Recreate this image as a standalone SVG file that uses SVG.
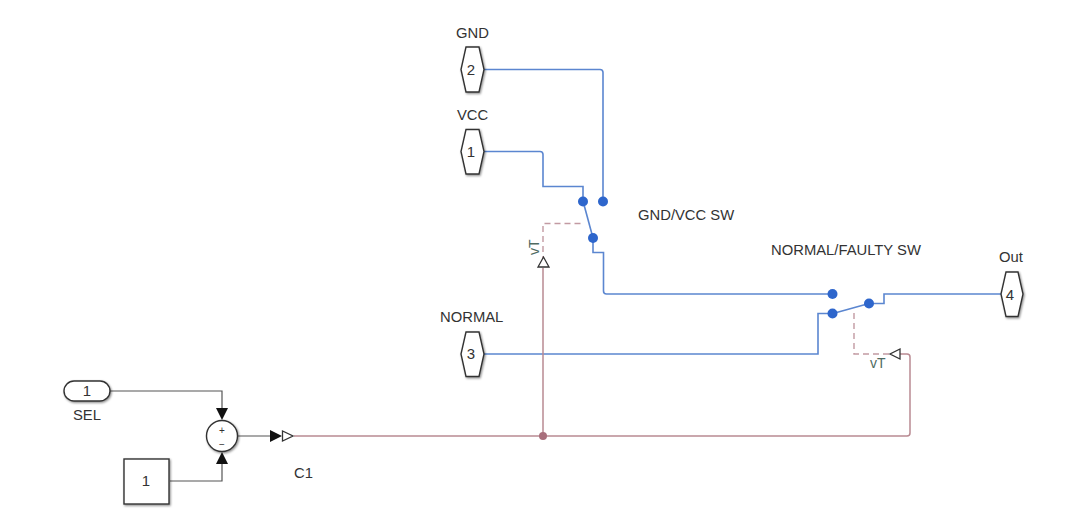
<svg xmlns="http://www.w3.org/2000/svg" width="1080" height="523" viewBox="0 0 1080 523">
<defs>
<filter id="sh" x="-30%" y="-30%" width="170%" height="170%"><feDropShadow dx="1" dy="1.2" stdDeviation="0.9" flood-color="#000" flood-opacity="0.45"/></filter>
</defs>
<style>
text{font-family:"Liberation Sans",Arial,sans-serif;font-size:14.800px;fill:#333}
.n{text-anchor:middle;font-size:15px;fill:#333}
.blk{fill:#fff;stroke:#333;stroke-width:1.4;filter:url(#sh)}
.b{fill:none;stroke:#5b86d0;stroke-width:1.6}
.r{fill:none;stroke:#b98a92;stroke-width:1.5}
.d{fill:none;stroke:#c29aa2;stroke-width:1.4;stroke-dasharray:6 4}
.k{fill:none;stroke:#555;stroke-width:1.2}
.dot{fill:#2e66cc}
.vt{font-size:14px;fill:#4f6a62}
.tri{fill:#fff;stroke:#333;stroke-width:1.3}
</style>
<rect width="1080" height="523" fill="#fff"/>
<g id="connectors">
<path class="b" d="M484 69.500H600Q603 69.500 603 72.500V201"/>
<path class="b" d="M484 151.500H540Q543 151.500 543 154.500V186.500H583V201"/>
<path class="b" d="M583 201L593 238"/>
<path class="b" d="M593 238V252.500H603.500V291Q603.500 294 606.500 294H832"/>
<path class="b" d="M484 354H818V313.500H833"/>
<path class="b" d="M833 313.500L869 303.500"/>
<path class="b" d="M869 303.500H884V294H1001"/>
<path class="d" d="M543 262V223.500H584"/>
<path class="d" d="M854 313V354H889"/>
<path class="r" d="M294 436H907Q910 436 910 433V357Q910 354 907 354H900"/>
<path class="r" d="M543 436V268"/>
<path class="k" d="M110 391H222V408"/>
<path class="k" d="M170 481H222V462"/>
<path class="k" d="M237 436H270"/>
<path d="M216 408H228L222 420Z" fill="#111"/>
<path d="M216 464H228L222 452Z" fill="#111"/>
<path d="M270 430V442L282 436Z" fill="#111"/>
<path class="tri" d="M282.500 431V441L293 436Z"/>
<path class="tri" d="M538 267H549L543.500 257Z"/>
<path class="tri" d="M900 349V359L890 354Z"/>
<circle cx="543" cy="436" r="4" fill="#a86f7c"/>
</g>
<g id="switch-gnd-vcc">
<circle class="dot" cx="583" cy="201.500" r="5"/>
<circle class="dot" cx="603" cy="201.500" r="5"/>
<circle class="dot" cx="593" cy="238" r="5"/>
<text x="638" y="220">GND/VCC SW</text>
<text class="vt" transform="translate(539 255) rotate(-90)">vT</text>
</g>
<g id="switch-normal-faulty">
<circle class="dot" cx="832.500" cy="294" r="5"/>
<circle class="dot" cx="832.500" cy="313.500" r="5"/>
<circle class="dot" cx="869" cy="303.500" r="5"/>
<text x="771" y="255">NORMAL/FAULTY SW</text>
<text class="vt" x="870" y="368">vT</text>
</g>
<g id="port-gnd">
<path class="blk" d="M466 47H479L484 69.500L479 92H466L461 69.500Z"/>
<text class="n" x="471" y="75">2</text>
<text x="456" y="38">GND</text>
</g>
<g id="port-vcc">
<path class="blk" d="M466 129.500H479L484 151.500L479 174H466L461 151.500Z"/>
<text class="n" x="471" y="157">1</text>
<text x="457" y="120">VCC</text>
</g>
<g id="port-normal">
<path class="blk" d="M466 332H479L484 354L479 376.500H466L461 354Z"/>
<text class="n" x="471" y="359">3</text>
<text x="440" y="322">NORMAL</text>
</g>
<g id="port-out">
<path class="blk" d="M1006 272H1018L1023 294L1018 316.500H1006L1001 294Z"/>
<text class="n" x="1010" y="300">4</text>
<text x="999" y="262">Out</text>
</g>
<g id="inport-sel">
<rect class="blk" x="64" y="381" width="46" height="20" rx="10"/>
<text class="n" x="87" y="396">1</text>
<text x="73" y="420">SEL</text>
</g>
<g id="sum">
<circle class="blk" cx="222" cy="436" r="15.500"/>
<text x="222" y="434" text-anchor="middle" style="font-size:10px">+</text>
<text x="222" y="448" text-anchor="middle" style="font-size:10px">−</text>
</g>
<g id="constant">
<rect class="blk" x="124" y="459" width="45" height="45"/>
<text class="n" x="146" y="486">1</text>
</g>
<g id="label-c1">
<text x="294" y="478">C1</text>
</g>
</svg>
